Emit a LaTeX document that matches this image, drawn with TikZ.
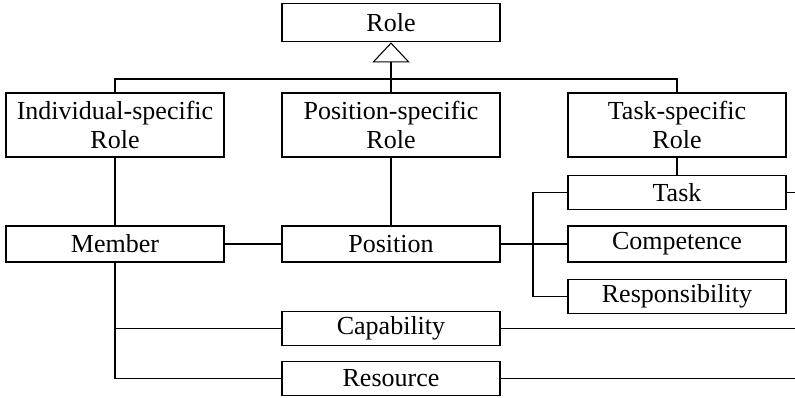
\documentclass[tikz,border=0pt]{standalone}
\usepackage{fontspec}
\setmainfont{Liberation Serif}
\usetikzlibrary{arrows.meta}

\tikzset{
  box/.style={draw, line width=0.8pt, minimum width=163.5pt, minimum height=27pt,
    inner sep=0pt, align=center, font=\fontsize{19.5}{22}\selectfont},
  tallbox/.style={box, minimum height=48pt},
  link/.style={line width=0.8pt}
}

\begin{document}
\begin{tikzpicture}[x=0.75pt, y=-0.75pt]
    \useasboundingbox (0,0) rectangle (795,397);
    % role hierarchy
    \node[box, minimum height=29pt] (role) at (391,22.5) {Role};
    \node[tallbox] (indrole) at (115,125) {Individual-specific\\Role};
    \node[tallbox] (posrole) at (391,125) {Position-specific\\Role};
    \node[tallbox] (taskrole) at (677,125) {Task-specific\\Role};
    % entities
    \node[box] (member) at (115,244) {Member};
    \node[box] (position) at (391,244) {Position};
    \node[box, minimum height=26pt] (task) at (677,192.5) {Task};
    \node[box] (competence) at (677,244) {Competence};
    \node[box, minimum height=26pt] (responsibility) at (677,296.5) {Responsibility};
    \node[box, minimum height=26pt] (capability) at (391,328.5) {Capability};
    \node[box, minimum height=26pt] (resource) at (391,378.5) {Resource};
    \coordinate (bar) at (391,79);
    \coordinate (fork) at (533,244);
    \coordinate (edge) at (795,0);
    % generalisation
    \draw[link] (indrole.north) |- (bar) -| (taskrole.north);
    \draw[link, -{Triangle[open, width=28pt, length=15pt]}] (posrole.north) -- (role.south);
    \draw[link] (indrole) -- (member);
    \draw[link] (posrole) -- (position);
    \draw[link] (taskrole) -- (task);
    \draw[link] (member) -- (position);
    \draw[link] (position) -- (fork);
    \foreach \n in {task,competence,responsibility}
      \draw[link] (fork) |- (\n.west);
    \draw[link] (member.south) |- (capability.west);
    \draw[link] (member.south) |- (resource.west);
    % links leaving to the right
    \foreach \n in {task,capability,resource}
      \draw[link] (\n.east) -- (\n.east -| edge);
\end{tikzpicture}
\end{document}
